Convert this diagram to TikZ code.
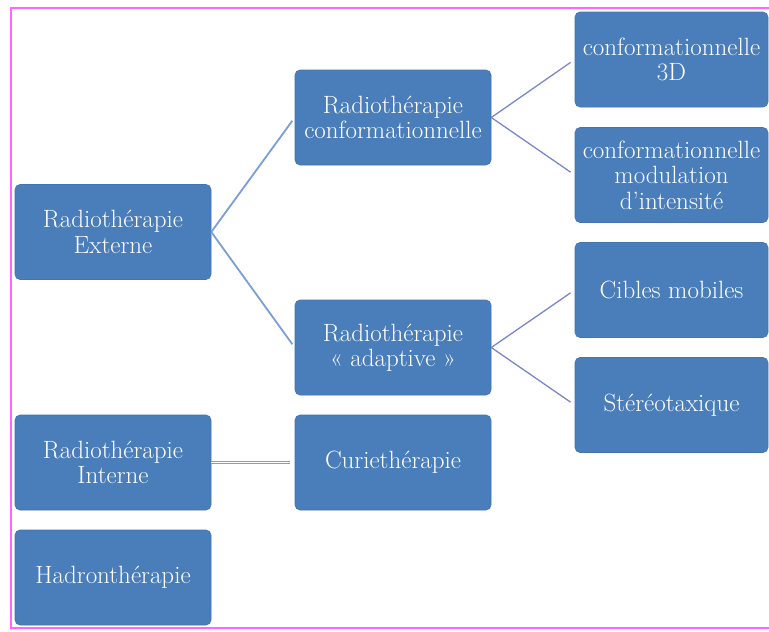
\documentclass[tikz,border=0pt]{standalone}
\usepackage{fontspec}
\begin{document}
\begin{tikzpicture}[x=1pt,y=-1pt,
  bx/.style={rectangle, rounded corners=5pt, fill=boxblue, draw=boxedge, line width=0.6pt,
    minimum width=196pt, minimum height=95pt, inner sep=1pt,
    text=white, align=center, font=\fontsize{25}{25.5}\selectfont\addfontfeatures{FakeBold=0.6}},
  bxr/.style={bx, minimum width=193pt},
  link/.style={draw=linkblue, line width=1.8pt},
  thinlink/.style={draw=linkblue!85!violet, line width=1.3pt},
  dbl/.style={draw=linkblue, double=white, double distance=1.2pt, line width=0.8pt}]
\definecolor{boxblue}{HTML}{4A7EBA}
\definecolor{boxedge}{HTML}{4474AE}
\definecolor{linkblue}{HTML}{7C9ED6}
\definecolor{pinkframe}{HTML}{FF66FF}
\useasboundingbox (0,0) rectangle (769,632);
\fill[white] (0,0) rectangle (769,632);
\draw[pinkframe, line width=2pt] (11,8) rectangle (775,628);
\node[bx] (ext) at (113,232) {Radiothérapie\\Externe};
\node[bx] (conf) at (393,117.5) {Radiothérapie\\conformationnelle};
\node[bxr] (c3d) at (671.5,59.5) {conformationnelle\\3D};
\node[bxr] (cimrt) at (671.5,175) {conformationnelle\\modulation\\d’intensité};
\node[bx] (adapt) at (393,347.5) {Radiothérapie\\«~adaptive~»};
\node[bxr] (cib) at (671.5,290) {Cibles mobiles};
\node[bxr] (ster) at (671.5,405) {Stéréotaxique};
\node[bx] (int) at (113,462.5) {Radiothérapie\\Interne};
\node[bx] (curie) at (393,462.5) {Curiethérapie};
\node[bx] (hadron) at (113,577.5) {Hadronthérapie};
\draw[link, shorten >=4pt] (ext.east) -- (conf.west);
\draw[link, shorten >=4pt] (ext.east) -- (adapt.west);
\draw[thinlink, shorten >=5pt] (conf.east) -- (c3d.west);
\draw[thinlink, shorten >=5pt] (conf.east) -- (cimrt.west);
\draw[thinlink, shorten >=5pt] (adapt.east) -- (cib.west);
\draw[thinlink, shorten >=5pt] (adapt.east) -- (ster.west);
\draw[dbl, shorten >=5pt] (int.east) -- (curie.west);
\end{tikzpicture}
\end{document}
